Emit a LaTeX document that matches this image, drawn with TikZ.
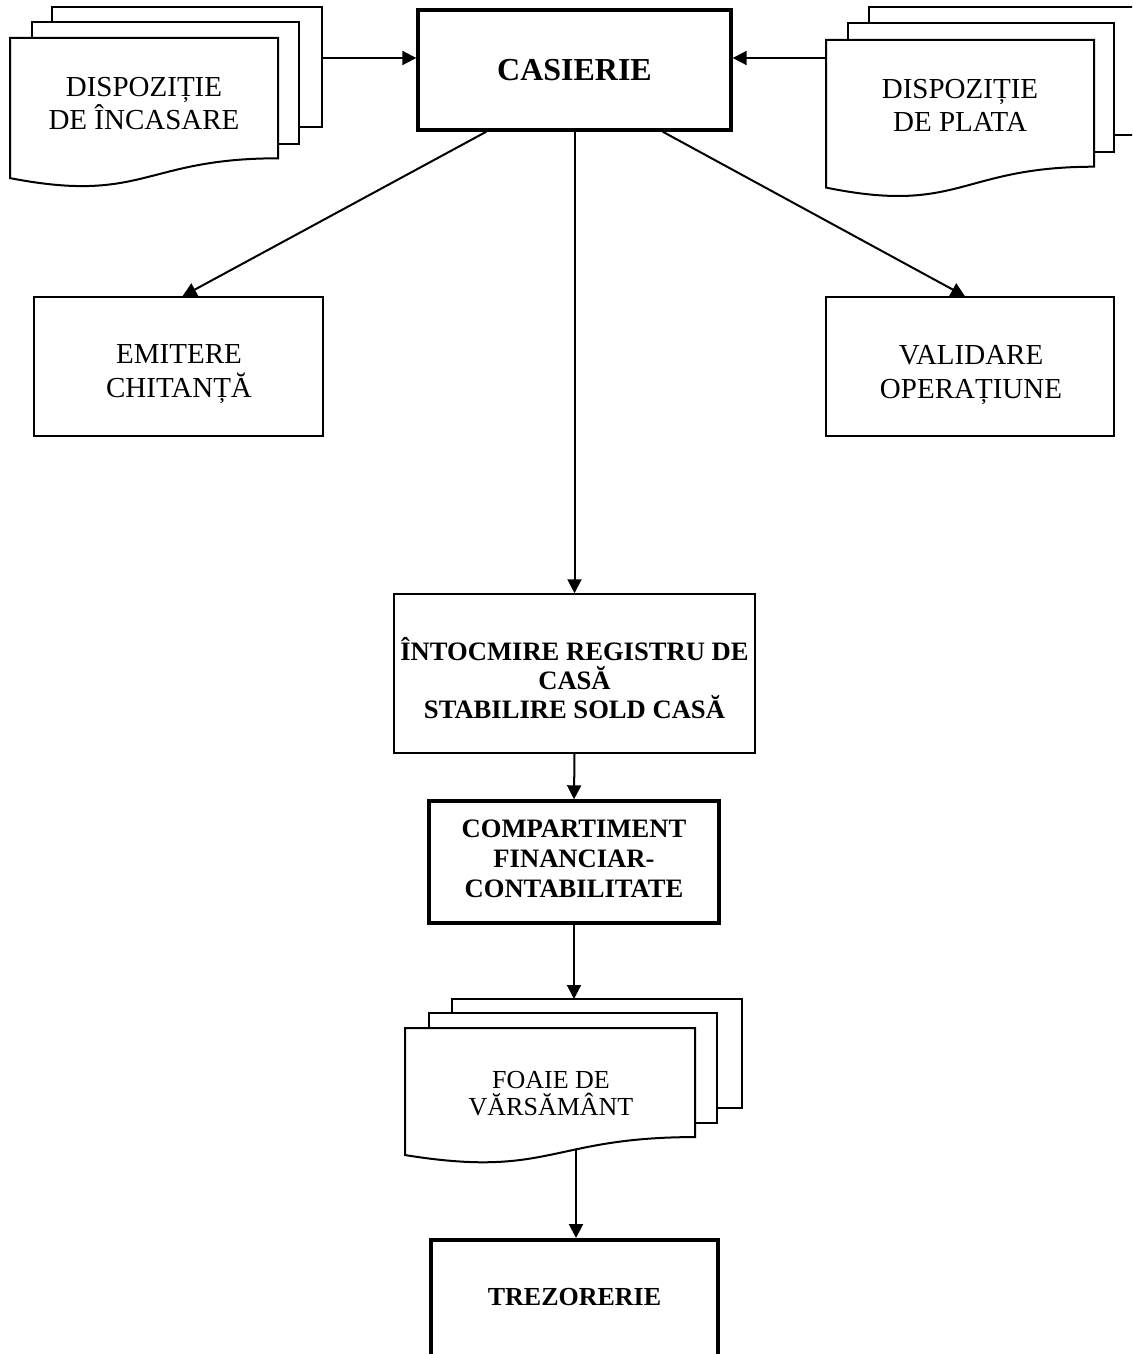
\documentclass[tikz,border=0pt]{standalone}
\usepackage{fontspec}
\setmainfont{Liberation Serif}
\usetikzlibrary{arrows.meta,calc}
\newcommand\mydocfront[4]{\draw[sheet] (#1,#2) -- ({#1+#3},#2) -- ({#1+#3},{#2+0.802*#4}) .. controls ({#1+0.5*#3},{#2+0.802*#4}) and ({#1+0.5*#3},{#2+1.1075*#4}) .. (#1,{#2+0.934*#4}) -- cycle;}
\begin{document}
\begin{tikzpicture}[x=0.5pt,y=-0.5pt,
  sheet/.style={draw, line width=1pt, fill=white, line join=miter},
  thinbox/.style={draw, line width=0.75pt, inner sep=0pt},
  thickbox/.style={draw, line width=1.7pt, inner sep=0pt},
  lbl/.style={inner sep=0pt, align=center, anchor=base},
  regfont/.style={font=\fontsize{14.5}{17}\selectfont},
  conn/.style={line width=1pt, -{Triangle[length=7pt,width=7pt]}}]
\useasboundingbox (0,0) rectangle (1132,1354);
\clip (0,0) rectangle (1132,1354);

% left multi-document
\draw[sheet] (52,7) rectangle (322,127);
\draw[sheet] (32,22) rectangle (299,144);
\mydocfront{10}{38}{268}{150}
\node[lbl, regfont] (dinc) at (144,130) {DISPOZIȚIE\\DE ÎNCASARE};
\coordinate (dincR) at (322,58);

% right multi-document
\draw[sheet] (869,7) rectangle (1150,135);
\draw[sheet] (848,23) rectangle (1114,152);
\mydocfront{826}{40}{268}{158}
\node[lbl, regfont] (dpla) at (960,132) {DISPOZIȚIE\\DE PLATA};
\coordinate (dplaL) at (826,58);

% bottom multi-document
\draw[sheet] (452,999) rectangle (742,1108);
\draw[sheet] (429,1013) rectangle (717,1123);
\mydocfront{405}{1028}{290}{136}
\node[lbl, font=\fontsize{13}{13.5}\selectfont] (foaie) at (551,1115) {FOAIE DE\\VĂRSĂMÂNT};
\coordinate (foaieT) at (576,999);
\coordinate (foaieB) at (576,1149);

% boxes
\node[thickbox, minimum width=156.5pt, minimum height=60pt] (cas) at (574.5,70) {};
\node[lbl, font=\fontsize{16}{18}\selectfont\bfseries] (cast) at (574.5,81) {CASIERIE};

\node[thinbox, minimum width=144.5pt, minimum height=69.5pt] (emit) at (178.5,366.5) {};
\node[lbl, regfont] (emitt) at (179,397) {EMITERE\\CHITANȚĂ};

\node[thinbox, minimum width=144pt, minimum height=69.5pt] (valid) at (970,366.5) {};
\node[lbl, regfont] (validt) at (971,398) {VALIDARE\\OPERAȚIUNE};

\node[thinbox, minimum width=180.5pt, minimum height=79.5pt] (reg) at (574.5,673.5) {};
\node[lbl, font=\fontsize{13.3}{14.5}\selectfont\bfseries] (regt) at (574.5,718) {ÎNTOCMIRE REGISTRU DE\\CASĂ\\STABILIRE SOLD CASĂ};

\node[thickbox, minimum width=145pt, minimum height=61pt] (comp) at (574,862) {};
\node[lbl, font=\fontsize{13.3}{15}\selectfont\bfseries] (compt) at (574,897) {COMPARTIMENT\\FINANCIAR-\\CONTABILITATE};

\node[draw, line width=2pt, inner sep=0pt, minimum width=143.5pt, minimum height=100pt] (trez) at (574.5,1340) {};
\node[lbl, font=\fontsize{13}{15}\selectfont\bfseries] (trezt) at (574.5,1305) {TREZORERIE};

% connectors
\draw[conn] (dincR) -- (dincR -| cas.west);
\draw[conn] (dplaL) -- (dplaL -| cas.east);
\draw[conn] ($(cas.south west)+(70,0)$) -- ($(emit.north)+(4,0)$);
\draw[conn] ($(cas.south east)+(-70,0)$) -- ($(valid.north)+(-5,0)$);
\draw[conn] (cas.south) -- (reg.north);
\draw[conn] (reg.south) -- (comp.north);
\draw[conn] (comp.south) -- (comp.south |- foaieT);
\draw[conn] (foaieB) -- (foaieB |- trez.north);
\end{tikzpicture}
\end{document}
